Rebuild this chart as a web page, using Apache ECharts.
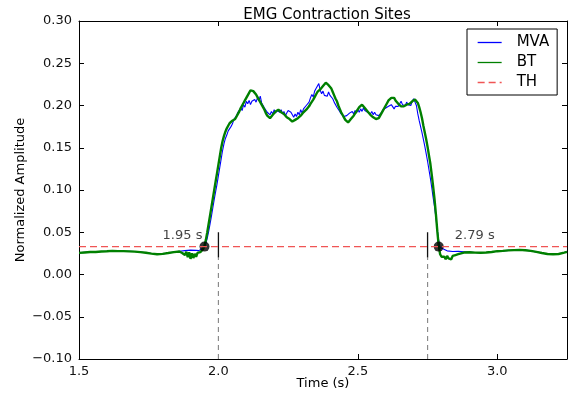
<!DOCTYPE html>
<html>
<head>
<meta charset="utf-8">
<script src="https://cdn.jsdelivr.net/npm/echarts@6/dist/echarts.min.js"></script>
<style>
  html, body { margin: 0; padding: 0; background: #fff; }
  #chart { width: 581px; height: 394px; }
</style>
</head>
<body>
<div id="chart"></div>
<script>
// Normalized EMG amplitude, sampled [time (s), amplitude]
const mvaData = [
  [1.50,0.0258],[1.52,0.0262],[1.54,0.0265],[1.56,0.0268],[1.58,0.0272],[1.60,0.0276],
  [1.62,0.0279],[1.64,0.0278],[1.66,0.0276],[1.68,0.0275],[1.70,0.0272],[1.72,0.0266],
  [1.74,0.0258],[1.76,0.0248],[1.78,0.0240],[1.80,0.0243],[1.82,0.0255],[1.84,0.0266],
  [1.86,0.0275],[1.88,0.0282],[1.90,0.0288],[1.92,0.0286],[1.93,0.0283],
  [1.935,0.0290],[1.940,0.0305],[1.945,0.0318],[1.950,0.0335],[1.955,0.037],[1.960,0.043],
  [1.965,0.051],[1.970,0.060],[1.975,0.069],[1.980,0.079],[1.985,0.089],[1.990,0.098],
  [1.995,0.107],[2.000,0.117],[2.005,0.127],[2.010,0.137],[2.015,0.147],[2.020,0.155],
  [2.025,0.161],[2.030,0.165],[2.035,0.170],[2.040,0.169],[2.045,0.175],[2.050,0.178],
  [2.055,0.183],[2.060,0.181],[2.065,0.188],[2.070,0.192],[2.075,0.190],[2.080,0.197],
  [2.085,0.194],[2.090,0.201],[2.095,0.198],[2.100,0.205],[2.105,0.202],[2.110,0.206],
  [2.115,0.201],[2.120,0.205],[2.125,0.203],[2.130,0.207],[2.135,0.204],[2.140,0.209],
  [2.145,0.206],[2.150,0.211],[2.155,0.203],[2.160,0.204],[2.165,0.197],[2.170,0.198],
  [2.175,0.192],[2.180,0.194],[2.185,0.189],[2.190,0.193],[2.195,0.190],[2.200,0.195],
  [2.205,0.191],[2.210,0.194],[2.215,0.196],[2.220,0.192],[2.225,0.195],[2.230,0.190],
  [2.235,0.193],[2.240,0.188],[2.245,0.191],[2.250,0.194],[2.255,0.196],[2.260,0.192],
  [2.265,0.189],[2.270,0.186],[2.275,0.190],[2.280,0.187],[2.285,0.192],[2.290,0.189],
  [2.295,0.195],[2.300,0.191],[2.305,0.196],[2.310,0.194],[2.315,0.200],[2.320,0.198],
  [2.325,0.204],[2.330,0.209],[2.335,0.213],[2.340,0.210],[2.345,0.217],[2.350,0.220],
  [2.355,0.223],[2.360,0.226],[2.365,0.218],[2.370,0.214],[2.375,0.217],[2.380,0.212],
  [2.385,0.214],[2.390,0.211],[2.395,0.216],[2.400,0.212],[2.405,0.210],[2.410,0.208],
  [2.415,0.204],[2.420,0.202],[2.425,0.198],[2.430,0.196],[2.435,0.193],[2.440,0.190],
  [2.445,0.192],[2.450,0.187],[2.455,0.185],[2.460,0.188],[2.465,0.186],[2.470,0.191],
  [2.475,0.189],[2.480,0.193],[2.485,0.190],[2.490,0.194],[2.495,0.191],[2.500,0.195],
  [2.505,0.192],[2.510,0.196],[2.515,0.193],[2.520,0.197],[2.525,0.194],[2.530,0.196],
  [2.535,0.192],[2.540,0.194],[2.545,0.190],[2.550,0.193],[2.555,0.189],[2.560,0.192],
  [2.565,0.189],[2.570,0.191],[2.575,0.188],[2.580,0.190],[2.585,0.192],[2.590,0.195],
  [2.595,0.193],[2.600,0.197],[2.605,0.195],[2.610,0.199],[2.615,0.197],[2.620,0.201],
  [2.625,0.199],[2.630,0.196],[2.635,0.199],[2.640,0.197],[2.645,0.199],[2.650,0.202],
  [2.655,0.205],[2.660,0.201],[2.665,0.203],[2.670,0.200],[2.675,0.204],[2.680,0.201],
  [2.685,0.203],[2.690,0.200],[2.695,0.205],[2.700,0.208],[2.705,0.204],[2.710,0.200],
  [2.715,0.190],[2.720,0.182],[2.725,0.175],[2.730,0.168],[2.735,0.160],[2.740,0.152],
  [2.745,0.143],[2.750,0.134],[2.755,0.124],[2.760,0.114],[2.765,0.103],[2.770,0.091],
  [2.775,0.080],[2.780,0.067],[2.785,0.053],[2.790,0.040],[2.795,0.032],[2.800,0.030],
  [2.82,0.0280],[2.84,0.0272],[2.86,0.0275],[2.88,0.0270],[2.90,0.0265],[2.92,0.0260],
  [2.94,0.0258],[2.96,0.0260],[2.98,0.0268],[3.00,0.0275],[3.02,0.0280],[3.04,0.0285],
  [3.06,0.0290],[3.08,0.0290],[3.10,0.0288],[3.12,0.0280],[3.14,0.0268],[3.16,0.0255],
  [3.18,0.0243],[3.20,0.0238],[3.22,0.0242],[3.24,0.0260],[3.25,0.0270]
];

const btData = [
  [1.50,0.0256],[1.52,0.0261],[1.54,0.0266],[1.56,0.0267],[1.58,0.0273],[1.60,0.0275],
  [1.62,0.0280],[1.64,0.0277],[1.66,0.0277],[1.68,0.0274],[1.70,0.0271],[1.72,0.0265],
  [1.74,0.0257],[1.76,0.0247],[1.78,0.0239],[1.80,0.0244],[1.82,0.0254],[1.84,0.0265],
  [1.860,0.0272],[1.865,0.0268],[1.870,0.0255],[1.875,0.0275],[1.880,0.0230],[1.885,0.0270],
  [1.890,0.0205],[1.895,0.0262],[1.900,0.0185],[1.905,0.0250],[1.910,0.0195],[1.915,0.0245],
  [1.920,0.0210],[1.925,0.0255],[1.930,0.0240],[1.935,0.0265],[1.940,0.0275],[1.945,0.0300],
  [1.950,0.034],[1.955,0.041],[1.960,0.050],[1.965,0.060],[1.970,0.070],[1.975,0.080],
  [1.980,0.090],[1.985,0.100],[1.990,0.110],[1.995,0.120],[2.000,0.130],[2.005,0.140],
  [2.010,0.150],[2.015,0.158],[2.020,0.164],[2.025,0.169],[2.030,0.173],[2.035,0.176],
  [2.040,0.179],[2.045,0.180],[2.050,0.182],[2.055,0.183],[2.060,0.184],[2.065,0.187],
  [2.070,0.190],[2.075,0.193],[2.080,0.197],[2.085,0.200],[2.090,0.203],[2.095,0.206],
  [2.100,0.209],[2.105,0.212],[2.110,0.215],[2.115,0.218],[2.120,0.220],[2.125,0.217],
  [2.130,0.215],[2.135,0.213],[2.140,0.210],[2.145,0.207],[2.150,0.204],[2.155,0.201],
  [2.160,0.198],[2.165,0.195],[2.170,0.191],[2.175,0.188],[2.180,0.186],[2.185,0.185],
  [2.190,0.187],[2.195,0.189],[2.200,0.191],[2.205,0.193],[2.210,0.194],[2.215,0.195],
  [2.220,0.194],[2.225,0.192],[2.230,0.191],[2.235,0.190],[2.240,0.188],[2.245,0.186],
  [2.250,0.185],[2.255,0.184],[2.260,0.183],[2.265,0.181],[2.270,0.181],[2.275,0.183],
  [2.280,0.184],[2.285,0.185],[2.290,0.186],[2.295,0.188],[2.300,0.190],[2.305,0.192],
  [2.310,0.193],[2.315,0.195],[2.320,0.197],[2.325,0.199],[2.330,0.202],[2.335,0.204],
  [2.340,0.207],[2.345,0.210],[2.350,0.213],[2.355,0.216],[2.360,0.218],[2.365,0.219],
  [2.370,0.221],[2.375,0.223],[2.380,0.225],[2.385,0.227],[2.390,0.226],[2.395,0.224],
  [2.400,0.222],[2.405,0.220],[2.410,0.216],[2.415,0.212],[2.420,0.208],[2.425,0.205],
  [2.430,0.200],[2.435,0.196],[2.440,0.192],[2.445,0.189],[2.450,0.186],[2.455,0.183],
  [2.460,0.181],[2.465,0.180],[2.470,0.182],[2.475,0.184],[2.480,0.186],[2.485,0.188],
  [2.490,0.190],[2.495,0.193],[2.500,0.195],[2.505,0.198],[2.510,0.200],[2.515,0.201],
  [2.520,0.199],[2.525,0.197],[2.530,0.195],[2.535,0.193],[2.540,0.191],[2.545,0.189],
  [2.550,0.187],[2.555,0.186],[2.560,0.185],[2.565,0.184],[2.570,0.183],[2.575,0.185],
  [2.580,0.188],[2.585,0.191],[2.590,0.194],[2.595,0.197],[2.600,0.200],[2.605,0.203],
  [2.610,0.206],[2.615,0.208],[2.620,0.209],[2.625,0.210],[2.630,0.209],[2.635,0.206],
  [2.640,0.204],[2.645,0.202],[2.650,0.201],[2.655,0.199],[2.660,0.198],[2.665,0.199],
  [2.670,0.200],[2.675,0.201],[2.680,0.201],[2.685,0.202],[2.690,0.204],[2.695,0.205],
  [2.700,0.206],[2.705,0.207],[2.710,0.205],[2.715,0.203],[2.720,0.198],[2.725,0.192],
  [2.730,0.185],[2.735,0.176],[2.740,0.168],[2.745,0.160],[2.750,0.151],[2.755,0.141],
  [2.760,0.131],[2.765,0.118],[2.770,0.104],[2.775,0.089],[2.780,0.071],[2.785,0.051],
  [2.790,0.034],[2.795,0.024],[2.800,0.021],[2.805,0.019],[2.810,0.021],[2.815,0.018],
  [2.820,0.022],[2.825,0.019],[2.830,0.021],[2.835,0.018],[2.840,0.022],[2.845,0.020],
  [2.850,0.023],[2.855,0.021],[2.860,0.024],[2.865,0.022],[2.870,0.025],[2.880,0.0260],
  [2.90,0.0264],[2.92,0.0259],[2.94,0.0257],[2.96,0.0261],[2.98,0.0267],[3.00,0.0276],
  [3.02,0.0279],[3.04,0.0286],[3.06,0.0289],[3.08,0.0291],[3.10,0.0287],[3.12,0.0279],
  [3.14,0.0267],[3.16,0.0254],[3.18,0.0242],[3.20,0.0239],[3.22,0.0243],[3.24,0.0259],
  [3.25,0.0268]
];

// Detection threshold and detected contraction on/off times
const thresholdLevel = 0.033;
const crossingTimes = [1.95, 2.79];
const crossingLabels = ['1.95 s', '2.79 s'];
const siteTimes = [2.0, 2.75];
const siteTickSpan = [0.02, 0.05];

// Axis ranges and ticks
const xRange = [1.5, 3.25];
const xStep = 0.5;
const yRange = [-0.10, 0.30];
const yStep = 0.05;

const FONT = 'DejaVu Sans';
const fmtY = v => v.toFixed(2).replace('-', '\u2212');

const frameAxis = {
  axisLine: { show: true, onZero: false, lineStyle: { color: '#000', width: 1 } },
  axisTick: { show: true, inside: true, length: 5, lineStyle: { color: '#000' } },
  splitLine: { show: false }
};

const siteSeries = [];
siteTimes.forEach(t => {
  siteSeries.push({
    type: 'line', silent: true, symbol: 'none', z: 3,
    data: [[t, yRange[0]], [t, siteTickSpan[0]]],
    lineStyle: { color: '#8a8a8a', width: 1.2, type: [5, 4] }
  });
  siteSeries.push({
    type: 'line', silent: true, symbol: 'none', z: 3,
    data: [[t, siteTickSpan[0]], [t, siteTickSpan[1]]],
    lineStyle: { color: '#111', width: 1.3 }
  });
});

const chart = echarts.init(document.getElementById('chart'), null, { renderer: 'canvas' });
chart.setOption({
  backgroundColor: '#fff',
  animation: false,
  title: {
    text: 'EMG Contraction Sites',
    left: 322, top: 3, textAlign: 'center',
    textStyle: { fontFamily: FONT, fontSize: 15, fontWeight: 'normal', color: '#000' }
  },
  legend: {
    orient: 'vertical', left: 467, top: 29,
    data: ['MVA', 'BT', 'TH'],
    borderColor: '#000', borderWidth: 1, borderRadius: 0,
    padding: [6, 8, 5, 10], itemGap: 5, itemWidth: 24, itemHeight: 14,
    itemStyle: { opacity: 0 },
    lineStyle: { width: 1.3 },
    textStyle: { fontFamily: FONT, fontSize: 15, color: '#000', padding: [0, 0, 0, 10] }
  },
  grid: { left: 79, right: 14, top: 21, bottom: 35, containLabel: false, outerBoundsMode: 'none' },
  xAxis: [
    Object.assign({}, frameAxis, {
      type: 'value', min: xRange[0], max: xRange[1], interval: xStep,
      name: 'Time (s)', nameLocation: 'middle', nameGap: 18, nameMoveOverlap: false,
      nameTextStyle: { fontFamily: FONT, fontSize: 13, color: '#000' },
      axisLabel: { fontFamily: FONT, fontSize: 13, color: '#111', margin: 6,
        showMaxLabel: false, formatter: v => v.toFixed(1) }
    }),
    Object.assign({}, frameAxis, {
      type: 'value', position: 'top', min: xRange[0], max: xRange[1], interval: xStep,
      axisLabel: { show: false }
    })
  ],
  yAxis: [
    Object.assign({}, frameAxis, {
      type: 'value', min: yRange[0], max: yRange[1], interval: yStep,
      name: 'Normalized Amplitude', nameLocation: 'middle', nameGap: 52, nameMoveOverlap: false,
      nameTextStyle: { fontFamily: FONT, fontSize: 13, color: '#000' },
      axisLabel: { fontFamily: FONT, fontSize: 13, color: '#111', margin: 7, formatter: fmtY }
    }),
    Object.assign({}, frameAxis, {
      type: 'value', position: 'right', min: yRange[0], max: yRange[1], interval: yStep,
      axisLabel: { show: false }
    })
  ],
  series: [
    {
      name: 'MVA', type: 'line', data: mvaData, symbol: 'none', z: 4,
      lineStyle: { color: '#0000ff', width: 1.1 }, itemStyle: { color: '#0000ff' }
    },
    {
      name: 'BT', type: 'line', data: btData, symbol: 'none', z: 5,
      lineStyle: { color: '#008000', width: 2.4 }, itemStyle: { color: '#008000' }
    },
    {
      name: 'crossings', type: 'scatter', z: 6, symbolSize: 10,
      data: crossingTimes.map(t => [t, thresholdLevel]),
      itemStyle: { color: '#000' },
      label: {
        show: true, fontFamily: FONT, fontSize: 13, color: '#111',
        formatter: p => crossingLabels[p.dataIndex],
        position: 'top'
      },
      labelLayout: p => ({
        dx: p.dataIndex === 0 ? -22 : 36,
        dy: 6
      })
    },
    {
      name: 'TH', type: 'line', symbol: 'none', z: 7,
      data: [[xRange[0], thresholdLevel], [xRange[1], thresholdLevel]],
      lineStyle: { color: '#f05555', width: 1.4, type: [7, 4] },
      itemStyle: { color: '#f05555' }
    }
  ].concat(siteSeries)
});
</script>
</body>
</html>
